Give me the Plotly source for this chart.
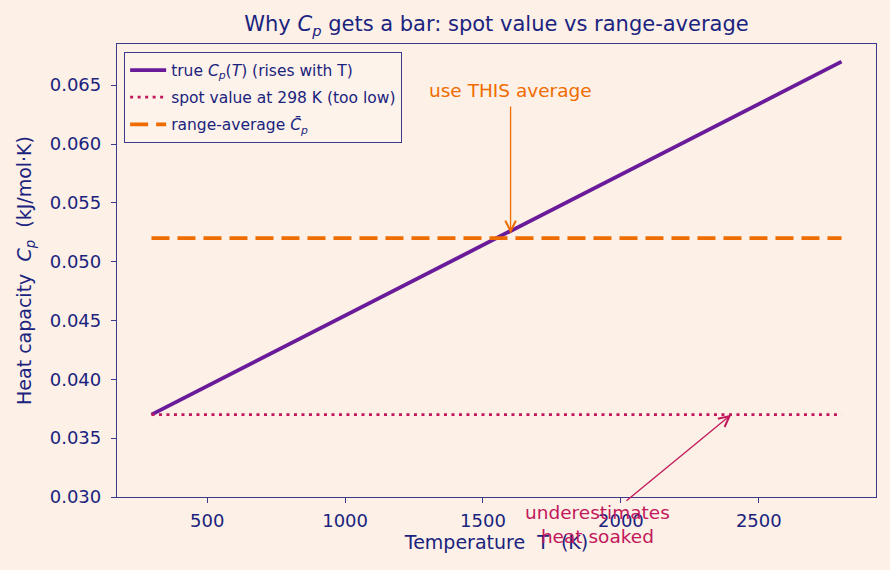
import plotly.graph_objects as go

# Data
T_range = [298, 2800]
cp_true = [0.037, 0.067]
cp_spot = [0.037, 0.037]
cp_avg = [0.052, 0.052]
x_ticks = [500, 1000, 1500, 2000, 2500]
y_ticks = [0.030, 0.035, 0.040, 0.045, 0.050, 0.055, 0.060, 0.065]

BG = "#fdf0e6"
NAVY = "#1a237e"
SPINE = "#3a3a8c"
PURPLE = "#6a1b9a"
CRIMSON = "#c2185b"
ORANGE = "#ef6c00"
FONT = "DejaVu Sans"

fig = go.Figure()
fig.add_trace(go.Scatter(x=T_range, y=cp_true, mode="lines", legendgroup="a",
                         line=dict(color=PURPLE, width=3.8),
                         name="true <i>C<sub>p</sub></i>(<i>T</i>) (rises with T)"))
fig.add_trace(go.Scatter(x=T_range, y=cp_spot, mode="lines", legendgroup="b",
                         line=dict(color=CRIMSON, width=2.8, dash="3px,4.5px"),
                         name="spot value at 298 K (too low)"))
fig.add_trace(go.Scatter(x=T_range, y=cp_avg, mode="lines", legendgroup="c",
                         line=dict(color=ORANGE, width=3.8, dash="18px,8px"),
                         name="range-average <i>C\u0304<sub>p</sub></i>"))

fig.add_annotation(x=1600, y=cp_avg[0] + 0.0004, ax=0, ay=-143,
                   xref="x", yref="y", axref="pixel", ayref="pixel",
                   text="use THIS average", showarrow=True,
                   arrowhead=5, arrowsize=1.6, arrowwidth=1.3, arrowcolor=ORANGE,
                   startstandoff=4,
                   font=dict(family=FONT, size=18.5, color=ORANGE))
fig.add_annotation(x=2400, y=cp_spot[0], ax=-134, ay=110,
                   xref="x", yref="y", axref="pixel", ayref="pixel",
                   text="underestimates<br>heat soaked", showarrow=True,
                   arrowhead=5, arrowsize=1.6, arrowwidth=1.3, arrowcolor=CRIMSON,
                   font=dict(family=FONT, size=18.5, color=CRIMSON))

axis_common = dict(showgrid=False, zeroline=False, showline=True, mirror=True,
                   linecolor=SPINE, linewidth=1.3, ticks="outside", ticklen=5,
                   tickwidth=1.2, tickcolor=SPINE,
                   tickfont=dict(family=FONT, size=18, color=NAVY))

fig.update_layout(
    width=890, height=570,
    paper_bgcolor=BG, plot_bgcolor=BG,
    margin=dict(l=117, r=14, t=44, b=73),
    font=dict(family=FONT, color=NAVY),
    title=dict(text="Why <i>C<sub>p</sub></i> gets a bar: spot value vs range-average",
               x=0.5, xref="paper", y=1 - 24 / 570, yanchor="middle",
               font=dict(family=FONT, size=21, color=NAVY)),
    xaxis=dict(range=[173, 2925], tickvals=x_ticks, ticklabelstandoff=2,
               title=dict(text="Temperature  T  (K)", standoff=5,
                          font=dict(family=FONT, size=19, color=NAVY)),
               **axis_common),
    yaxis=dict(range=[0.030, 0.0685], tickvals=y_ticks, tickformat=".3f",
               ticklabelstandoff=6,
               title=dict(text="Heat capacity  <i>C<sub>p</sub></i>  (kJ/mol·K)", standoff=13,
                          font=dict(family=FONT, size=19, color=NAVY)),
               **axis_common),
    legend=dict(x=0.009, y=0.982, xanchor="left", yanchor="top",
                bgcolor="#fef3ea", bordercolor=SPINE, borderwidth=1.3,
                font=dict(family=FONT, size=15.5, color=NAVY),
                itemwidth=36, tracegroupgap=4),
    showlegend=True,
)

fig.write_html("out.html")
